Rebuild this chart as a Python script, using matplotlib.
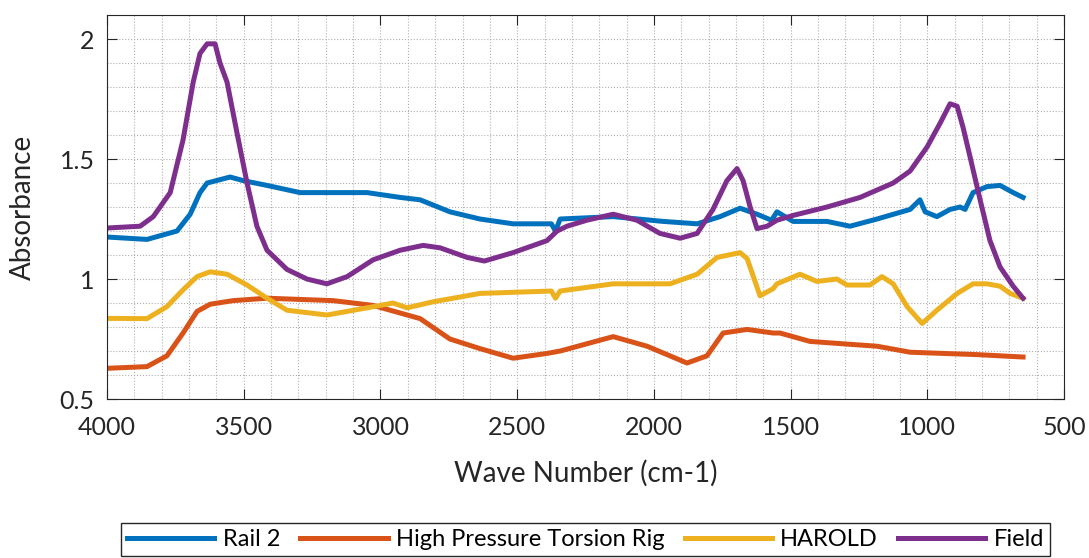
import matplotlib
matplotlib.use('Agg')
import matplotlib.pyplot as plt
from matplotlib.ticker import MultipleLocator
import numpy as np

# Spectra (wave number, absorbance)
rail2_x = [4000, 3854, 3744, 3696, 3660, 3634, 3550, 3502, 3415, 3294, 3173, 3049,
           2928, 2855, 2746, 2636, 2515, 2375, 2360, 2343, 2149, 1966, 1842, 1758,
           1685, 1623, 1570, 1550, 1491, 1367, 1283, 1184, 1063, 1027, 1008, 965,
           917, 880, 862, 833, 782, 734, 686, 650]
rail2_y = [1.175, 1.165, 1.20, 1.27, 1.36, 1.40, 1.425, 1.41, 1.39, 1.36, 1.36, 1.36,
           1.34, 1.33, 1.28, 1.25, 1.23, 1.23, 1.20, 1.25, 1.26, 1.24, 1.23, 1.26,
           1.295, 1.27, 1.245, 1.28, 1.24, 1.24, 1.22, 1.25, 1.29, 1.33, 1.28, 1.26,
           1.29, 1.30, 1.29, 1.36, 1.385, 1.39, 1.36, 1.34]

hptr_x = [4000, 3854, 3781, 3722, 3671, 3623, 3539, 3415, 3173, 3027, 2855, 2746,
          2636, 2515, 2391, 2343, 2149, 2025, 1879, 1806, 1747, 1659, 1564, 1539,
          1429, 1308, 1184, 1063, 943, 818, 650]
hptr_y = [0.628, 0.635, 0.68, 0.775, 0.865, 0.895, 0.91, 0.92, 0.91, 0.89, 0.835, 0.75,
          0.71, 0.67, 0.69, 0.70, 0.76, 0.72, 0.65, 0.68, 0.775, 0.79, 0.775, 0.775,
          0.74, 0.73, 0.72, 0.695, 0.69, 0.685, 0.675]

harold_x = [4000, 3854, 3781, 3722, 3671, 3623, 3561, 3488, 3415, 3342, 3196, 3049,
            2954, 2903, 2808, 2636, 2375, 2360, 2343, 2149, 1941, 1842, 1769, 1685,
            1659, 1612, 1564, 1550, 1466, 1404, 1331, 1294, 1210, 1166, 1125, 1074,
            1019, 965, 891, 833, 782, 734, 697, 650]
harold_y = [0.836, 0.835, 0.885, 0.955, 1.01, 1.03, 1.02, 0.975, 0.92, 0.87, 0.85, 0.88,
            0.90, 0.88, 0.905, 0.94, 0.95, 0.92, 0.95, 0.98, 0.98, 1.02, 1.09, 1.11,
            1.085, 0.93, 0.96, 0.98, 1.02, 0.99, 1.0, 0.975, 0.975, 1.01, 0.98, 0.885,
            0.815, 0.87, 0.94, 0.98, 0.98, 0.97, 0.94, 0.92]

field_x = [4000, 3879, 3831, 3769, 3722, 3685, 3660, 3634, 3605, 3587, 3561, 3525,
           3488, 3452, 3415, 3342, 3269, 3196, 3122, 3027, 2928, 2844, 2782, 2683,
           2620, 2515, 2391, 2354, 2318, 2245, 2149, 2062, 1978, 1904, 1842, 1784,
           1733, 1696, 1674, 1648, 1623, 1586, 1550, 1491, 1367, 1246, 1125, 1063,
           1001, 953, 917, 891, 869, 844, 807, 771, 734, 686, 650]
field_y = [1.2125, 1.22, 1.26, 1.36, 1.58, 1.82, 1.94, 1.98, 1.98, 1.90, 1.82, 1.61,
           1.40, 1.22, 1.12, 1.04, 1.0, 0.98, 1.01, 1.08, 1.12, 1.14, 1.13, 1.09,
           1.075, 1.11, 1.16, 1.20, 1.22, 1.245, 1.27, 1.245, 1.19, 1.17, 1.19, 1.29,
           1.41, 1.46, 1.41, 1.30, 1.21, 1.22, 1.245, 1.265, 1.30, 1.34, 1.40, 1.45,
           1.55, 1.65, 1.73, 1.72, 1.63, 1.51, 1.33, 1.16, 1.05, 0.97, 0.92]

labels = ['Rail 2', 'High Pressure Torsion Rig', 'HAROLD', 'Field']
colors = ['#0072BD', '#D95319', '#EDB120', '#7E2F8E']

plt.rcParams['font.family'] = ['Lato', 'DejaVu Sans']
plt.rcParams['font.size'] = 16

fig = plt.figure(figsize=(10.89, 5.58), dpi=100)
ax = fig.add_axes([0.0983, 0.2849, 0.8788, 0.6882])

series = [(rail2_x, rail2_y), (hptr_x, hptr_y), (harold_x, harold_y), (field_x, field_y)]
for (xs, ys), lab, c in zip(series, labels, colors):
    ax.plot(xs, ys, color=c, lw=3.6, label=lab, solid_joinstyle='round')

ax.set_xlim(4000, 500)
ax.set_ylim(0.5, 2.1)
ax.xaxis.set_major_locator(MultipleLocator(500))
ax.xaxis.set_minor_locator(MultipleLocator(100))
ax.yaxis.set_minor_locator(MultipleLocator(0.1))
ax.set_yticks([0.5, 1, 1.5, 2])
ax.set_yticklabels(['0.5', '1', '1.5', '2'])

ax.grid(which='both', linestyle=':', color='#b0b0b0', lw=0.8)
ax.tick_params(which='major', direction='in', length=7, width=0.8,
               top=True, right=True, colors='#262626', labelsize=18)
ax.tick_params(axis='x', pad=12)
ax.tick_params(axis='y', pad=9)
ax.tick_params(which='minor', length=0)
for s in ax.spines.values():
    s.set_color('#262626')
    s.set_linewidth(0.8)

ax.set_xlabel('Wave Number (cm-1)', fontsize=20, color='#262626', labelpad=15)
ax.set_ylabel('Absorbance', fontsize=20, color='#262626', labelpad=17)

fig.legend(loc='lower center', bbox_to_anchor=(0.5377, 0.004), ncol=4,
           fontsize=17, handlelength=3.7, columnspacing=0.85, handletextpad=0.35,
           fancybox=False, edgecolor='#262626', borderpad=0.25, borderaxespad=0,
           framealpha=1)

fig.savefig('out.png', dpi=100)
